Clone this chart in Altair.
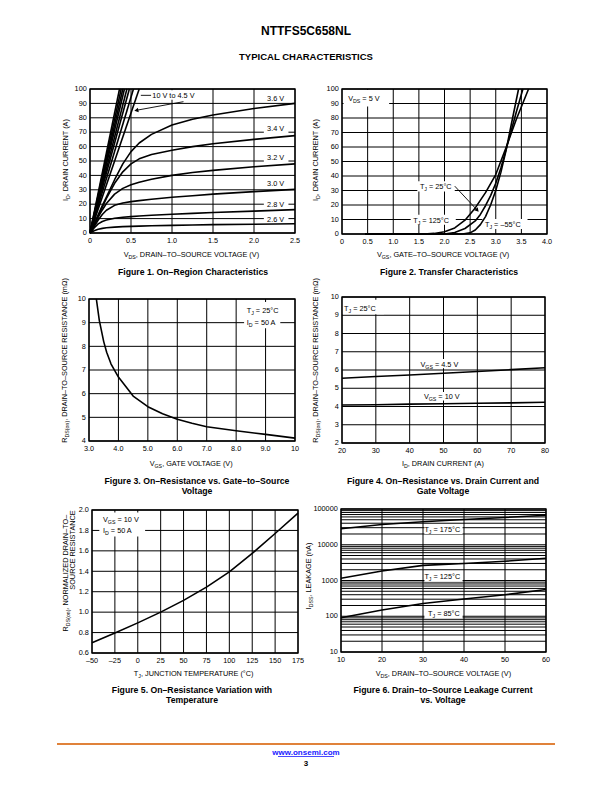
import altair as alt
import pandas as pd

FONT = "Liberation Sans, Arial, Helvetica, sans-serif"
W, H = 596, 776
TS = 7.3      # tick label size
LS = 7.3      # in-plot label size
AS = 7.3      # axis title size
CS = 8.7      # caption size
GW = 1.0      # grid width
LW = 1.6      # curve width

# ---------------- data ----------------
# Figure 1: On-region characteristics
F1_VDS = [0, 0.05, 0.1, 0.15, 0.2, 0.3, 0.4, 0.5, 0.6, 0.75, 1.0, 1.25, 1.5, 2.0, 2.5]
F1_ID_26 = [0, 1.6, 2.6, 3.2, 3.6, 4.1, 4.4, 4.6, 4.8, 5.0, 5.3, 5.6, 5.8, 6.1, 6.4]
F1_ID_28 = [0, 3.5, 6.3, 8.0, 9.0, 10.2, 10.9, 11.4, 11.8, 12.3, 13.0, 13.6, 14.2, 15.2, 16.2]
F1_ID_30 = [0, 4.5, 9.0, 12.8, 15.8, 19.2, 20.8, 21.8, 22.5, 23.4, 24.8, 25.9, 27.0, 28.7, 30.3]
F1_ID_32 = [0, 5.5, 11, 16, 20.5, 27, 31, 33.5, 35.2, 37.3, 40, 42, 43.5, 46, 48]
F1_ID_34 = [0, 6, 12, 18, 24, 34.5, 42.5, 48, 51.5, 54.5, 57.5, 60, 62, 65, 67.6]
F1_ID_36 = [0, 6.3, 12.6, 19, 25, 37, 48, 56.5, 62.5, 68.5, 75, 79, 82, 86.5, 90]
F1_STEEP_VDS_AT_100A = [0.36, 0.38, 0.40, 0.42, 0.45, 0.48, 0.53, 0.60]
F1_LABELS = ["3.6 V", "3.4 V", "3.2 V", "3.0 V", "2.8 V", "2.6 V"]
F1_LABEL_Y = [93.8, 72.9, 52.5, 34.3, 19.7, 9.3]

# Figure 2: Transfer characteristics
F2_VGS_125 = [0.45, 1.6, 1.8, 2.0, 2.2, 2.4, 2.6, 2.8, 3.0, 3.2, 3.4, 3.64]
F2_ID_125 = [0, 0, 0.4, 1.5, 4.2, 9.5, 18, 28.5, 41, 59.5, 79, 100]
F2_VGS_25 = [0.45, 2.0, 2.2, 2.4, 2.6, 2.7, 2.8, 2.9, 3.0, 3.1, 3.2, 3.3, 3.4, 3.53]
F2_ID_25 = [0, 0, 1, 3.8, 9, 13.5, 19.5, 26.5, 35, 45.5, 58, 71, 84, 100]
F2_VGS_M55 = [0.45, 2.35, 2.5, 2.6, 2.7, 2.8, 2.9, 3.0, 3.1, 3.2, 3.3, 3.445]
F2_ID_M55 = [0, 0, 0.8, 2.8, 6.5, 12, 20, 30, 42.5, 57.5, 75, 100]

# Figure 3: RDS(on) vs VGS
F3_VGS = [3.25, 3.35, 3.5, 3.6, 3.75, 4.0, 4.25, 4.5, 5.0, 5.5, 6.0, 6.5, 7.0, 8.0, 9.0, 10.0]
F3_RDS = [10.0, 9.1, 8.2, 7.75, 7.25, 6.7, 6.3, 5.9, 5.45, 5.15, 4.92, 4.75, 4.6, 4.43, 4.28, 4.12]

# Figure 4: RDS(on) vs ID
F4_ID = [20, 30, 40, 50, 60, 70, 80]
F4_R_45 = [5.55, 5.64, 5.73, 5.82, 5.92, 6.02, 6.12]
F4_R_10 = [4.08, 4.10, 4.13, 4.15, 4.18, 4.20, 4.23]

# Figure 5: normalized RDS(on) vs TJ
F5_TJ = [-50, -25, 0, 25, 50, 75, 100, 125, 150, 175]
F5_R = [0.70, 0.795, 0.895, 1.0, 1.115, 1.245, 1.395, 1.575, 1.77, 1.97]

# Figure 6: IDSS leakage vs VDS
F6_VDS = [10, 20, 30, 40, 50, 60]
F6_175 = [28000, 37000, 44000, 51000, 58000, 67000]
F6_125 = [1150, 1850, 2650, 3000, 3450, 4200]
F6_85 = [91, 150, 228, 305, 400, 560]

# ---------------- panels (domain, pixel box x0,x1,ytop,ybottom) ----------------
P1 = dict(xd=[0, 2.5], yd=[0, 100], box=(82, 287, 81, 225))
P2 = dict(xd=[0, 4.0], yd=[0, 100], box=(334, 539, 81, 226))
P3 = dict(xd=[3.0, 10.0], yd=[4, 10], box=(81, 287, 291, 433))
P4 = dict(xd=[20, 80], yd=[2, 10], box=(334, 537, 289, 435))
P5 = dict(xd=[-50, 175], yd=[0.6, 2.0], box=(84, 290, 502, 645))
P6 = dict(xd=[10, 60], yd=[10, 100000], box=(333, 538, 501, 644), log=True)

ARIAL = {' ': 278, '(': 333, ')': 333, ',': 278, '-': 333, '.': 278, '=': 584, '°': 400,
         '–': 556, 'Ω': 768, ':': 278, '/': 278}
for c in '0123456789':
    ARIAL[c] = 556
ARIAL.update(dict(A=667, B=667, C=722, D=722, E=667, F=611, G=778, H=722, I=278, J=500, K=667,
                  L=556, M=833, N=722, O=778, P=667, Q=778, R=722, S=667, T=611, U=722, V=667,
                  W=944, X=667, Y=667, Z=611))
ARIAL.update(dict(a=556, b=556, c=500, d=556, e=556, f=278, g=556, h=556, i=222, j=222, k=500,
                  l=222, m=833, n=556, o=556, p=556, q=556, r=333, s=500, t=278, u=556, v=500,
                  w=722, x=500, y=500, z=500))
SUBF = 0.72


def tw(s, size):
    return sum(ARIAL.get(ch, 556) for ch in s) * size / 1000.0


def parse(s):
    segs, i = [], 0
    while i < len(s):
        j = s.find('_{', i)
        if j < 0:
            segs.append((s[i:], False))
            break
        if j > i:
            segs.append((s[i:j], False))
        k = s.find('}', j)
        segs.append((s[j + 2:k], True))
        i = k + 1
    return segs


def rich(text, size, df, xe, ye, align='left', angle=0, weight='normal', color='black'):
    segs = parse(text)
    out = []
    base = dict(font=FONT, baseline='alphabetic', color=color, fontWeight=weight)
    if angle:
        base['angle'] = angle
    if len(segs) == 1 and not segs[0][1]:
        out.append(alt.Chart(df).mark_text(text=segs[0][0], fontSize=size, align=align,
                                           dy=size * 0.36, **base).encode(x=xe, y=ye))
        return out
    ws = [tw(t, size * SUBF if sub else size) for t, sub in segs]
    tot = sum(ws)
    cur = {'left': 0, 'center': -tot / 2, 'right': -tot}[align]
    for (t, sub), w in zip(segs, ws):
        fs = size * SUBF if sub else size
        lead = len(t) - len(t.lstrip(' '))
        tt = t.strip(' ')
        if tt:
            dx = cur + tw(' ' * lead, fs)
            dy = size * 0.36 + (size * 0.3 if sub else 0)
            out.append(alt.Chart(df).mark_text(text=tt, fontSize=fs, align='left', dx=dx, dy=dy,
                                               **base).encode(x=xe, y=ye))
        cur += w
    return out


ONE = pd.DataFrame({'k': [0]})


def page_text(text, x, y, size=AS, align='center', angle=0, weight='normal', color='black'):
    return rich(text, size, ONE, alt.value(x), alt.value(y), align, angle, weight, color)


def xs(p):
    return alt.Scale(domain=p['xd'], range=[p['box'][0], p['box'][1]], nice=False, zero=False)


def ys(p):
    if p.get('log'):
        return alt.Scale(type='log', domain=p['yd'], range=[p['box'][3], p['box'][2]], nice=False)
    return alt.Scale(domain=p['yd'], range=[p['box'][3], p['box'][2]], nice=False, zero=False)


def X(p, f='x'):
    return alt.X(f, type='quantitative', scale=xs(p), axis=None)


def Y(p, f='y'):
    return alt.Y(f, type='quantitative', scale=ys(p), axis=None)


def grid(p, xv, yv):
    v = pd.DataFrame({'x': xv, 'y': [p['yd'][0]] * len(xv), 'y2': [p['yd'][1]] * len(xv)})
    h = pd.DataFrame({'y': yv, 'x': [p['xd'][0]] * len(yv), 'x2': [p['xd'][1]] * len(yv)})
    return [alt.Chart(v).mark_rule(color='black', strokeWidth=GW).encode(
                x=X(p), y=Y(p), y2=alt.Y2('y2')),
            alt.Chart(h).mark_rule(color='black', strokeWidth=GW).encode(
                y=Y(p), x=X(p), x2=alt.X2('x2')),
            ]


def frame(p):
    df = pd.DataFrame({'x': [p['xd'][0]], 'x2': [p['xd'][1]], 'y': [p['yd'][0]], 'y2': [p['yd'][1]]})
    return [alt.Chart(df).mark_rect(fill=None, fillOpacity=0, stroke='black', strokeWidth=1.3).encode(
        x=X(p), x2=alt.X2('x2'), y=Y(p), y2=alt.Y2('y2'))]


def ticks(p, xv, xl, yv, yl):
    dx_ = pd.DataFrame({'x': xv, 'y': [p['yd'][0]] * len(xv), 't': xl})
    dy_ = pd.DataFrame({'y': yv, 'x': [p['xd'][0]] * len(yv), 't': yl})
    return [alt.Chart(dx_).mark_text(font=FONT, fontSize=TS, baseline='alphabetic', align='center',
                                     dy=7.4 + TS * 0.36).encode(x=X(p), y=Y(p), text='t:N'),
            alt.Chart(dy_).mark_text(font=FONT, fontSize=TS, baseline='alphabetic', align='right',
                                     dx=-3.2, dy=TS * 0.36 - 0.4).encode(x=X(p), y=Y(p), text='t:N')]


def boxes(p, rects):
    df = pd.DataFrame(rects, columns=['x', 'x2', 'y', 'y2'])
    return [alt.Chart(df).mark_rect(color='white').encode(x=X(p), x2=alt.X2('x2'), y=Y(p), y2=alt.Y2('y2'))]


def curves(p, df, width=LW):
    return [alt.Chart(df).mark_line(color='black', strokeWidth=width, strokeJoin='round').encode(
        x=X(p), y=Y(p), detail='s:N')]


def label(p, x, y, text, align='left', size=LS):
    df = pd.DataFrame({'x': [x], 'y': [y]})
    return rich(text, size, df, X(p), Y(p), align)


def arrow(p, x0, y0, x1, y1, shape, ang):
    seg = pd.DataFrame({'x': [x0, x1], 'y': [y0, y1], 's': ['a', 'a']})
    head = pd.DataFrame({'x': [x1], 'y': [y1]})
    return [alt.Chart(seg).mark_line(color='black', strokeWidth=0.9).encode(x=X(p), y=Y(p), detail='s:N'),
            alt.Chart(head).mark_point(shape=shape, filled=True, size=22, angle=ang, color='black',
                                       opacity=1).encode(x=X(p), y=Y(p))]


def fmt(v, d):
    s = f"{v:.{d}f}"
    return s.replace('-', '–')


layers = []

# ---------------- Figure 1 ----------------
p = P1
f1 = []
for name, ys_ in zip(['2.6', '2.8', '3.0', '3.2', '3.4', '3.6'],
                     [F1_ID_26, F1_ID_28, F1_ID_30, F1_ID_32, F1_ID_34, F1_ID_36]):
    f1 += [{'x': a, 'y': b, 's': name} for a, b in zip(F1_VDS, ys_)]
for i, xe in enumerate(F1_STEEP_VDS_AT_100A):
    f1 += [{'x': 0, 'y': 0, 's': f'st{i}'}, {'x': xe, 'y': 100, 's': f'st{i}'}]
f1 = pd.DataFrame(f1)
x1v = [0, 0.5, 1.0, 1.5, 2.0, 2.5]
y1v = list(range(0, 101, 10))
layers += grid(p, x1v, y1v)
layers += boxes(p, [[2.12, 2.42, 91, 97], [2.12, 2.42, 68.7, 77], [2.12, 2.42, 48.7, 56.5],
                    [2.12, 2.42, 31.3, 37.5], [2.12, 2.42, 17, 23], [2.12, 2.42, 7, 12.5],
                    [0.75, 1.32, 92.5, 99.2]])
layers += curves(p, f1)
layers += frame(p)
for t, yy in zip(F1_LABELS, F1_LABEL_Y):
    layers += label(p, 2.16, yy, t)
layers += label(p, 0.76, 95.6, "10 V to 4.5 V")
seg = pd.DataFrame({'x': [0.62, 0.745], 'y': [95.6, 95.6], 's': ['l', 'l']})
layers += [alt.Chart(seg).mark_line(color='black', strokeWidth=0.9).encode(x=X(p), y=Y(p), detail='s:N')]
layers += arrow(p, 1.14, 91.2, 0.565, 85.2, 'triangle-left', 350)
layers += ticks(p, x1v, ['0', '0.5', '1.0', '1.5', '2.0', '2.5'], y1v, [str(v) for v in y1v])

# ---------------- Figure 2 ----------------
p = P2
f2 = pd.DataFrame(
    [{'x': a, 'y': b, 's': '125'} for a, b in zip(F2_VGS_125, F2_ID_125)] +
    [{'x': a, 'y': b, 's': '25'} for a, b in zip(F2_VGS_25, F2_ID_25)] +
    [{'x': a, 'y': b, 's': '-55'} for a, b in zip(F2_VGS_M55, F2_ID_M55)])
x2v = [0, 0.5, 1.0, 1.5, 2.0, 2.5, 3.0, 3.5, 4.0]
layers += grid(p, x2v, y1v)
layers += boxes(p, [[0.03, 0.92, 88, 99.3], [1.47, 2.2, 29.3, 36.3], [1.34, 2.22, 6.3, 13.2],
                    [2.74, 3.62, 3.5, 10.4]])
layers += curves(p, f2)
layers += frame(p)
layers += label(p, 0.12, 93.8, "V_{DS} = 5 V")
layers += label(p, 1.52, 32.7, "T_{J} = 25°C")
layers += label(p, 1.39, 9.7, "T_{J} = 125°C")
layers += label(p, 2.79, 6.9, "T_{J} = –55°C")
layers += arrow(p, 2.2, 33.0, 2.64, 16.4, 'triangle-right', 49)
layers += ticks(p, x2v, ['0', '0.5', '1.0', '1.5', '2.0', '2.5', '3.0', '3.5', '4.0'], y1v,
                [str(v) for v in y1v])

# ---------------- Figure 3 ----------------
p = P3
f3 = pd.DataFrame({'x': F3_VGS, 'y': F3_RDS, 's': 'r'})
x3v = [3, 4, 5, 6, 7, 8, 9, 10]
y3v = [4, 5, 6, 7, 8, 9, 10]
layers += grid(p, x3v, y3v)
layers += boxes(p, [[8.27, 9.75, 9.27, 9.87], [8.27, 9.5, 8.76, 9.28]])
layers += curves(p, f3)
layers += frame(p)
layers += label(p, 8.36, 9.52, "T_{J} = 25°C")
layers += label(p, 8.36, 9.01, "I_{D} = 50 A")
layers += ticks(p, x3v, ['3.0', '4.0', '5.0', '6.0', '7.0', '8.0', '9.0', '10'], y3v,
                [str(v) for v in y3v])

# ---------------- Figure 4 ----------------
p = P4
f4 = pd.DataFrame([{'x': a, 'y': b, 's': '4.5'} for a, b in zip(F4_ID, F4_R_45)] +
                  [{'x': a, 'y': b, 's': '10'} for a, b in zip(F4_ID, F4_R_10)])
x4v = [20, 30, 40, 50, 60, 70, 80]
y4v = [2, 3, 4, 5, 6, 7, 8, 9, 10]
layers += grid(p, x4v, y4v)
layers += boxes(p, [[20.2, 32.4, 9.05, 9.85], [42.6, 57.6, 6.1, 6.6], [43.5, 57.0, 4.33, 4.8]])
layers += curves(p, f4)
layers += frame(p)
layers += label(p, 20.6, 9.4, "T_{J} = 25°C")
layers += label(p, 43.2, 6.33, "V_{GS} = 4.5 V")
layers += label(p, 44.2, 4.55, "V_{GS} = 10 V")
layers += ticks(p, x4v, [str(v) for v in x4v], y4v, [str(v) for v in y4v])

# ---------------- Figure 5 ----------------
p = P5
f5 = pd.DataFrame({'x': F5_TJ, 'y': F5_R, 's': 'r'})
x5v = [-50, -25, 0, 25, 50, 75, 100, 125, 150, 175]
y5v = [0.6, 0.8, 1.0, 1.2, 1.4, 1.6, 1.8, 2.0]
layers += grid(p, x5v, y5v)
layers += boxes(p, [[-42, 8, 1.74, 1.975]])
layers += curves(p, f5)
layers += frame(p)
layers += label(p, -38, 1.91, "V_{GS} = 10 V")
layers += label(p, -38, 1.80, "I_{D} = 50 A")
layers += ticks(p, x5v, [fmt(v, 0) for v in x5v], y5v, [fmt(v, 1) for v in y5v])

# ---------------- Figure 6 ----------------
p = P6
f6 = pd.DataFrame([{'x': a, 'y': b, 's': '175'} for a, b in zip(F6_VDS, F6_175)] +
                  [{'x': a, 'y': b, 's': '125'} for a, b in zip(F6_VDS, F6_125)] +
                  [{'x': a, 'y': b, 's': '85'} for a, b in zip(F6_VDS, F6_85)])
x6v = [10, 20, 30, 40, 50, 60]
y6grid = [k * 10 ** d for d in range(1, 5) for k in range(1, 10)] + [100000]
y6v = [10, 100, 1000, 10000, 100000]
layers += grid(p, x6v, y6grid)
layers += boxes(p, [[30.35, 39.65, 20000, 36000], [30.35, 39.65, 930, 1780], [30.35, 39.65, 87, 166]])
layers += curves(p, f6)
layers += frame(p)
layers += label(p, 34.7, 27400, "T_{J} = 175°C", align='center')
layers += label(p, 34.7, 1300, "T_{J} = 125°C", align='center')
layers += label(p, 35.1, 121, "T_{J} = 85°C", align='center')
layers += ticks(p, x6v, [str(v) for v in x6v], y6v, [str(v) for v in y6v])

# ---------------- axis titles ----------------
layers += page_text("V_{DS}, DRAIN–TO–SOURCE VOLTAGE (V)", 184, 246)
layers += page_text("I_{D}, DRAIN CURRENT (A)", 57, 152, angle=270)
layers += page_text("V_{GS}, GATE–TO–SOURCE VOLTAGE (V)", 436, 246)
layers += page_text("I_{D}, DRAIN CURRENT (A)", 307, 152, angle=270)
layers += page_text("V_{GS}, GATE VOLTAGE (V)", 184, 455)
layers += page_text("R_{DS(on)}, DRAIN–TO–SOURCE RESISTANCE (mΩ)", 56, 352, angle=270)
layers += page_text("I_{D}, DRAIN CURRENT (A)", 435, 455)
layers += page_text("R_{DS(on)}, DRAIN–TO–SOURCE RESISTANCE (mΩ)", 307, 352, angle=270)
layers += page_text("T_{J}, JUNCTION TEMPERATURE (°C)", 186, 665)
layers += page_text("R_{DS(on)}, NORMALIZED DRAIN–TO–", 57, 565, angle=270)
layers += page_text("SOURCE RESISTANCE", 64.5, 542, angle=270)
layers += page_text("V_{DS}, DRAIN–TO–SOURCE VOLTAGE (V)", 436, 665)
layers += page_text("I_{DSS}, LEAKAGE (nA)", 300, 568, angle=270)

# ---------------- captions & page text ----------------
layers += page_text("NTTFS5C658NL", 298, 23, size=12, weight='bold')
layers += page_text("TYPICAL CHARACTERISTICS", 298, 49, size=9.5, weight='bold')
layers += page_text("Figure 1. On–Region Characteristics", 185, 264, size=CS, weight='bold')
layers += page_text("Figure 2. Transfer Characteristics", 441, 264, size=CS, weight='bold')
layers += page_text("Figure 3. On–Resistance vs. Gate–to–Source", 189, 472.5, size=CS, weight='bold')
layers += page_text("Voltage", 189, 483, size=CS, weight='bold')
layers += page_text("Figure 4. On–Resistance vs. Drain Current and", 435, 472.5, size=CS, weight='bold')
layers += page_text("Gate Voltage", 435, 483, size=CS, weight='bold')
layers += page_text("Figure 5. On–Resistance Variation with", 184, 681.5, size=CS, weight='bold')
layers += page_text("Temperature", 184, 692, size=CS, weight='bold')
layers += page_text("Figure 6. Drain–to–Source Leakage Current", 435, 681.5, size=CS, weight='bold')
layers += page_text("vs. Voltage", 435, 692, size=CS, weight='bold')

layers += [alt.Chart(ONE).mark_rule(color='#E0823A', strokeWidth=2.2).encode(
    x=alt.value(49), x2=alt.value(547), y=alt.value(736))]
layers += page_text("www.onsemi.com", 298, 744, size=8, weight='bold', color='#1a1aff')
layers += [alt.Chart(ONE).mark_rule(color='#1a1aff', strokeWidth=0.8).encode(
    x=alt.value(270), x2=alt.value(326), y=alt.value(748.5))]
layers += page_text("3", 298, 755, size=8, weight='bold')

chart = alt.layer(*layers).resolve_scale(x='independent', y='independent').properties(
    width=W, height=H, padding=0, autosize=alt.AutoSizeParams(type='none'), background='white'
).configure_view(stroke=None)

chart.save("out.html", embed_options={"renderer": "svg", "actions": False})
